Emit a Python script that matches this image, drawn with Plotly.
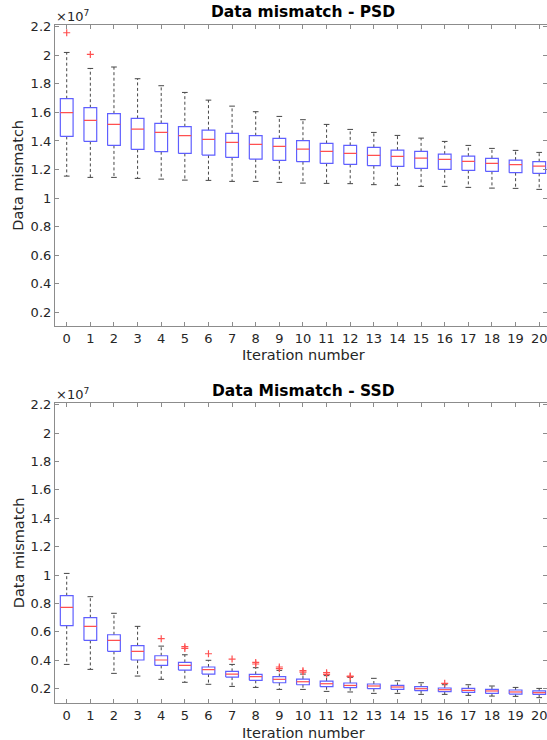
import plotly.graph_objects as go

# ---------------- data (values in units of 1e7) ----------------
iterations = list(range(21))

psd_lower_whisker = [1.154, 1.145, 1.145, 1.138, 1.133, 1.126, 1.124, 1.117, 1.117, 1.110, 1.105,
                     1.103, 1.101, 1.094, 1.089, 1.082, 1.082, 1.075, 1.070, 1.068, 1.061]
psd_q1 = [1.432, 1.397, 1.369, 1.341, 1.325, 1.313, 1.301, 1.285, 1.273, 1.264, 1.255,
          1.243, 1.236, 1.227, 1.222, 1.208, 1.201, 1.194, 1.187, 1.178, 1.173]
psd_median = [1.598, 1.544, 1.516, 1.483, 1.460, 1.437, 1.411, 1.390, 1.376, 1.362, 1.343,
              1.327, 1.313, 1.299, 1.292, 1.280, 1.271, 1.257, 1.243, 1.234, 1.224]
psd_q3 = [1.696, 1.633, 1.591, 1.558, 1.523, 1.500, 1.476, 1.453, 1.437, 1.418, 1.402,
          1.383, 1.369, 1.355, 1.336, 1.327, 1.308, 1.294, 1.278, 1.266, 1.255]
psd_upper_whisker = [2.020, 1.908, 1.918, 1.836, 1.787, 1.740, 1.686, 1.644, 1.605, 1.572, 1.549,
                     1.516, 1.481, 1.460, 1.439, 1.420, 1.397, 1.369, 1.348, 1.334, 1.320]
psd_outlier_iter = [0, 1]
psd_outlier_val = [2.158, 2.006]

ssd_lower_whisker = [0.371, 0.336, 0.308, 0.289, 0.266, 0.245, 0.231, 0.216, 0.209, 0.195, 0.195,
                     0.181, 0.177, 0.167, 0.167, 0.160, 0.160, 0.153, 0.148, 0.146, 0.137]
ssd_q1 = [0.644, 0.540, 0.463, 0.402, 0.364, 0.331, 0.303, 0.282, 0.259, 0.242, 0.228,
          0.214, 0.207, 0.200, 0.195, 0.186, 0.179, 0.174, 0.167, 0.162, 0.160]
ssd_median = [0.773, 0.639, 0.540, 0.463, 0.402, 0.364, 0.334, 0.303, 0.285, 0.266, 0.249,
              0.235, 0.223, 0.219, 0.212, 0.200, 0.193, 0.188, 0.184, 0.177, 0.172]
ssd_q3 = [0.855, 0.700, 0.580, 0.503, 0.432, 0.385, 0.353, 0.322, 0.301, 0.285, 0.268,
          0.254, 0.240, 0.233, 0.223, 0.214, 0.205, 0.202, 0.195, 0.191, 0.184]
ssd_upper_whisker = [1.012, 0.848, 0.731, 0.639, 0.500, 0.439, 0.400, 0.371, 0.348, 0.329, 0.303,
                     0.292, 0.280, 0.273, 0.256, 0.242, 0.228, 0.228, 0.219, 0.209, 0.202]
ssd_outlier_iter = [4, 5, 5, 6, 7, 8, 8, 9, 9, 10, 10, 11, 11, 12, 12, 16]
ssd_outlier_val = [0.552, 0.496, 0.484, 0.446, 0.409, 0.385, 0.374, 0.353, 0.341,
                   0.327, 0.317, 0.313, 0.301, 0.289, 0.285, 0.238]

ytick_vals = [0.2, 0.4, 0.6, 0.8, 1.0, 1.2, 1.4, 1.6, 1.8, 2.0, 2.2]
ytick_text = ["0.2", "0.4", "0.6", "0.8", "1", "1.2", "1.4", "1.6", "1.8", "2", "2.2"]

titles = ["Data mismatch - PSD", "Data Mismatch - SSD"]
xlabel = "Iteration number"
ylabel = "Data mismatch"

# ---------------- styling ----------------
BOX_HALF = 0.27
CAP_HALF = 0.12
BLUE = "rgb(95,95,255)"
RED = "rgb(255,80,80)"
WHISK = "rgb(70,70,70)"
AXC = "rgb(140,140,140)"
TXT = "rgb(38,38,38)"
FONT = "DejaVu Sans"

fig = go.Figure()


def add_boxes(xa, ya, lw, q1, med, q3, uw, out_x, out_y):
    bx, by, mx, my, wx, wy, cx, cy = [], [], [], [], [], [], [], []
    for i, p in enumerate(iterations):
        l, r = p - BOX_HALF, p + BOX_HALF
        bx += [l, r, r, l, l, None]
        by += [q1[i], q1[i], q3[i], q3[i], q1[i], None]
        mx += [l, r, None]
        my += [med[i], med[i], None]
        wx += [p, p, None, p, p, None]
        wy += [q3[i], uw[i], None, q1[i], lw[i], None]
        cx += [p - CAP_HALF, p + CAP_HALF, None, p - CAP_HALF, p + CAP_HALF, None]
        cy += [uw[i], uw[i], None, lw[i], lw[i], None]
    common = dict(xaxis=xa, yaxis=ya, mode="lines", hoverinfo="skip", showlegend=False)
    fig.add_trace(go.Scatter(x=wx, y=wy, line=dict(color=WHISK, width=1, dash="3px,2.5px"), **common))
    fig.add_trace(go.Scatter(x=cx, y=cy, line=dict(color=WHISK, width=1), **common))
    fig.add_trace(go.Scatter(x=bx, y=by, line=dict(color=BLUE, width=1.2), **common))
    fig.add_trace(go.Scatter(x=mx, y=my, line=dict(color=RED, width=1.2), **common))
    fig.add_trace(go.Scatter(x=out_x, y=out_y, xaxis=xa, yaxis=ya, mode="markers",
                             marker=dict(symbol="cross-thin", size=5, line=dict(color=RED, width=1.2)),
                             hoverinfo="skip", showlegend=False))


add_boxes("x", "y", psd_lower_whisker, psd_q1, psd_median, psd_q3, psd_upper_whisker,
          psd_outlier_iter, psd_outlier_val)
add_boxes("x2", "y2", ssd_lower_whisker, ssd_q1, ssd_median, ssd_q3, ssd_upper_whisker,
          ssd_outlier_iter, ssd_outlier_val)

W, H = 547, 740
x_dom = [54.9 / W, 1.0]
top_dom = [1 - 325.9 / H, 1 - 24.6 / H]
bot_dom = [1 - 702.9 / H, 1 - 402.6 / H]

axis_common = dict(showline=True, linecolor=AXC, linewidth=1, mirror="ticks", ticks="inside",
                   ticklen=4, tickcolor=AXC, showgrid=False, zeroline=False,
                   tickfont=dict(family=FONT, size=13, color=TXT), automargin=False,
                   ticklabeloverflow="allow")

xcommon = dict(axis_common, range=[-0.5, 20.33], tickvals=iterations,
               ticktext=[str(i) for i in iterations], domain=x_dom)

fig.update_layout(
    width=W, height=H, margin=dict(l=0, r=0, t=0, b=0),
    paper_bgcolor="white", plot_bgcolor="white",
    xaxis=dict(xcommon, anchor="y"),
    yaxis=dict(axis_common, range=[0.105, 2.215], tickvals=ytick_vals, ticktext=ytick_text,
               domain=top_dom, anchor="x"),
    xaxis2=dict(xcommon, anchor="y2"),
    yaxis2=dict(axis_common, range=[0.1, 2.215], tickvals=ytick_vals, ticktext=ytick_text,
                domain=bot_dom, anchor="x2"),
)

ann = []
for k, (dom, title_y, xl_y, exp_y) in enumerate([(top_dom, 12.5, 355, 16), (bot_dom, 390.5, 732.5, 394)]):
    ycen = H - (dom[0] + dom[1]) / 2 * H
    ann.append(dict(text="<b>%s</b>" % titles[k], x=303, y=H - title_y,
                    font=dict(family=FONT, size=15.5, color="black")))
    ann.append(dict(text=xlabel, x=303, y=H - xl_y, font=dict(family=FONT, size=14.5, color=TXT)))
    ann.append(dict(text=ylabel, x=18.5, y=H - ycen, textangle=-90,
                    font=dict(family=FONT, size=14.5, color=TXT)))
    ann.append(dict(text="×10<sup>7</sup>", x=54, y=H - exp_y, xanchor="left",
                    font=dict(family=FONT, size=13, color=TXT)))

for a in ann:
    a.setdefault("xanchor", "center")
    a.update(xref="paper", yref="paper", showarrow=False, yanchor="middle")
    a["x"] = a["x"] / W
    a["y"] = a["y"] / H
fig.update_layout(annotations=ann)

fig.write_html("out.html", config={"displayModeBar": False},
               post_script="document.body.style.margin='0px';document.body.style.overflow='hidden';")
